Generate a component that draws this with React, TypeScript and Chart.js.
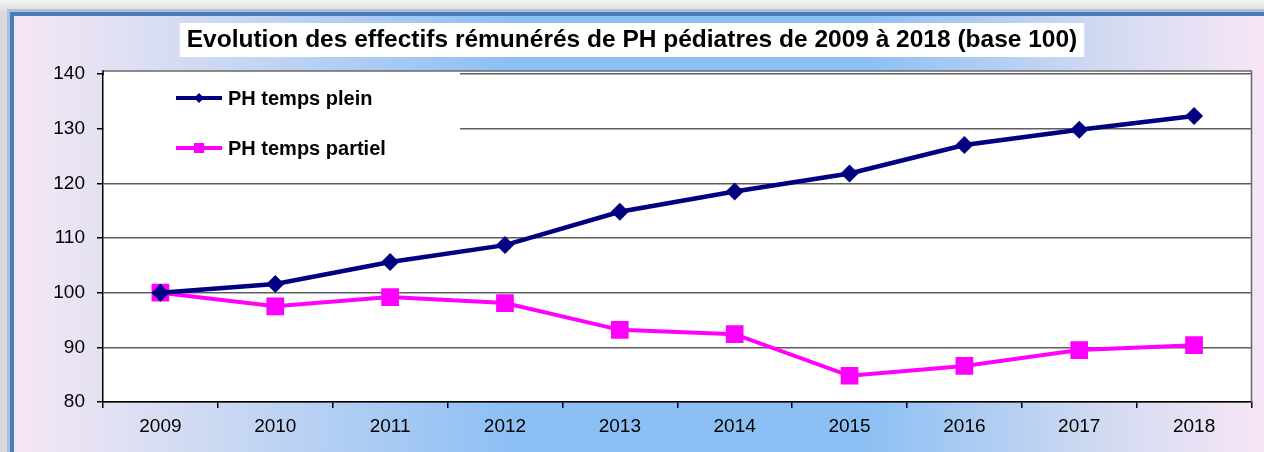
import React, { useEffect, useRef } from "react";
import { Chart, registerables } from "chart.js";

Chart.register(...registerables);

const years = ["2009", "2010", "2011", "2012", "2013", "2014", "2015", "2016", "2017", "2018"];
const pleinValues = [100, 101.6, 105.6, 108.7, 114.8, 118.5, 121.8, 127.0, 129.8, 132.3];
const partielValues = [100, 97.5, 99.2, 98.1, 93.2, 92.4, 84.8, 86.6, 89.5, 90.4];
const seriesLabels = ["PH temps plein", "PH temps partiel"];
const titleText = "Evolution des effectifs rémunérés de PH pédiatres de 2009 à 2018 (base 100)";
const yMin = 80;
const yMax = 140;
const yStep = 10;

const FONT = "'Liberation Sans', Arial, sans-serif";
const TITLE_SIZE = 24.5;
const NAVY = "#000080";
const MAGENTA = "#ff00ff";

const decorPlugin = {
  id: "decor",
  beforeDraw(chart: any) {
    const ctx = chart.ctx;
    const w = chart.width;
    const h = chart.height;
    const ca = chart.chartArea;
    ctx.save();
    const g0 = ctx.createLinearGradient(0, 0, 0, 12);
    g0.addColorStop(0, "#f4f4f4");
    g0.addColorStop(1, "#dadada");
    ctx.fillStyle = g0;
    ctx.fillRect(0, 0, w, h);

    const g = ctx.createLinearGradient(14, 0, w, 0);
    g.addColorStop(0, "#f6e6f5");
    g.addColorStop(0.1, "#dcdff2");
    g.addColorStop(0.4, "#8cbff4");
    g.addColorStop(0.68, "#8cbff4");
    g.addColorStop(0.88, "#d4dbf1");
    g.addColorStop(1, "#f8e6f6");
    ctx.fillStyle = g;
    ctx.fillRect(12, 14, w - 12, h - 14);

    ctx.strokeStyle = "rgba(90,140,205,0.35)";
    ctx.lineWidth = 3;
    ctx.beginPath();
    ctx.moveTo(8.5, h);
    ctx.lineTo(8.5, 10.5);
    ctx.lineTo(w, 10.5);
    ctx.stroke();
    ctx.strokeStyle = "#4a7ebb";
    ctx.lineWidth = 4;
    ctx.beginPath();
    ctx.moveTo(12, h);
    ctx.lineTo(12, 14);
    ctx.lineTo(w, 14);
    ctx.stroke();

    // plot area
    ctx.fillStyle = "#ffffff";
    ctx.fillRect(ca.left, ca.top - 3, ca.right - ca.left, ca.bottom - ca.top + 3);

    // title box
    const tb = chart.titleBlock;
    ctx.font = "bold " + TITLE_SIZE + "px " + FONT;
    const tw = ctx.measureText(titleText).width;
    const cx = (tb.left + tb.right) / 2;
    ctx.fillRect(cx - tw / 2 - 7, 23, tw + 14, 34);
    ctx.restore();
  },
  beforeDatasetsDraw(chart: any) {
    const ctx = chart.ctx;
    const ca = chart.chartArea;
    ctx.save();
    // legend background
    ctx.fillStyle = "#ffffff";
    ctx.fillRect(ca.left + 1, ca.top - 2, 460 - ca.left - 1, 168 - ca.top + 2);

    // frame top and right
    ctx.strokeStyle = "#6a6a6a";
    ctx.lineWidth = 1.5;
    ctx.beginPath();
    ctx.moveTo(ca.left, ca.top - 3);
    ctx.lineTo(ca.right, ca.top - 3);
    ctx.lineTo(ca.right, ca.bottom);
    ctx.stroke();
    ctx.strokeStyle = "#000";
    ctx.beginPath();
    ctx.moveTo(ca.left, ca.top - 3.75);
    ctx.lineTo(ca.left, ca.top + 1);
    ctx.stroke();

    // legend entries
    const items = [
      { label: chart.data.datasets[0].label, color: NAVY, style: "rectRot", r: 5, y: 98 },
      { label: chart.data.datasets[1].label, color: MAGENTA, style: "rect", r: 7, y: 148 },
    ];
    items.forEach((it) => {
      ctx.strokeStyle = it.color;
      ctx.lineWidth = 4;
      ctx.beginPath();
      ctx.moveTo(176, it.y);
      ctx.lineTo(222, it.y);
      ctx.stroke();
      ctx.fillStyle = it.color;
      if (it.style === "rectRot") {
        ctx.beginPath();
        ctx.moveTo(199, it.y - it.r);
        ctx.lineTo(199 + it.r, it.y);
        ctx.lineTo(199, it.y + it.r);
        ctx.lineTo(199 - it.r, it.y);
        ctx.closePath();
        ctx.fill();
      } else {
        ctx.fillRect(199 - 5, it.y - 5, 10, 10);
      }
      ctx.fillStyle = "#000";
      ctx.font = "bold 20px " + FONT;
      ctx.textBaseline = "middle";
      ctx.textAlign = "left";
      ctx.fillText(it.label, 228, it.y + 1);
    });
    ctx.restore();
  },
};

export default function App() {
  const canvasRef = useRef<HTMLCanvasElement | null>(null);

  useEffect(() => {
    const canvas = canvasRef.current;
    if (!canvas) return;
    const chart = new Chart(canvas, {
      type: "line",
      data: {
        labels: years,
        datasets: [
          {
            label: seriesLabels[0],
            data: pleinValues,
            borderColor: NAVY,
            backgroundColor: NAVY,
            borderWidth: 4.5,
            pointStyle: "rectRot",
            pointRadius: 9,
            pointBorderWidth: 0,
            tension: 0,
          },
          {
            label: seriesLabels[1],
            data: partielValues,
            borderColor: MAGENTA,
            backgroundColor: MAGENTA,
            borderWidth: 4,
            pointStyle: "rect",
            pointRadius: 12.5,
            pointBorderWidth: 0,
            tension: 0,
          },
        ],
      },
      plugins: [decorPlugin],
      options: {
        responsive: false,
        animation: false,
        devicePixelRatio: 1,
        layout: { padding: { left: 0, right: 0, top: 0, bottom: 0 } },
        plugins: {
          legend: { display: false },
          tooltip: { enabled: false },
          title: {
            display: true,
            text: titleText,
            color: "#000",
            font: { family: FONT, size: TITLE_SIZE, weight: "bold", lineHeight: 1.2 },
            padding: { top: 25.3, bottom: 19.3 },
          },
        },
        scales: {
          x: {
            type: "category",
            offset: true,
            grid: {
              offset: true,
              drawOnChartArea: false,
              drawTicks: true,
              tickLength: 6,
              color: "#000",
              lineWidth: 1.5,
            },
            border: { display: true, color: "#000", width: 1.5 },
            ticks: {
              color: "#000",
              font: { family: FONT, size: 19 },
              padding: 7,
              maxRotation: 0,
              autoSkip: false,
            },
            afterFit: (s: any) => {
              s.height = 50;
            },
          },
          y: {
            min: yMin,
            max: yMax,
            ticks: {
              stepSize: yStep,
              color: "#000",
              font: { family: FONT, size: 19 },
              padding: 12,
            },
            grid: {
              color: "#5e5e5e",
              lineWidth: 1.5,
              drawTicks: true,
              tickLength: 6,
              tickColor: "#000",
            },
            border: { display: true, color: "#000", width: 1.5 },
            afterFit: (s: any) => {
              s.width = 103;
            },
          },
          yRight: {
            position: "right",
            min: yMin,
            max: yMax,
            display: true,
            grid: { display: false, drawTicks: false },
            border: { display: false },
            ticks: { display: false },
            afterFit: (s: any) => {
              s.width = 12;
            },
          },
        },
      },
    } as any);
    return () => chart.destroy();
  }, []);

  return (
    <div style={{ position: "absolute", left: 0, top: 0, width: 1264, height: 452 }}>
      <canvas ref={canvasRef} width={1264} height={452} style={{ display: "block", width: 1264, height: 452 }} />
    </div>
  );
}
